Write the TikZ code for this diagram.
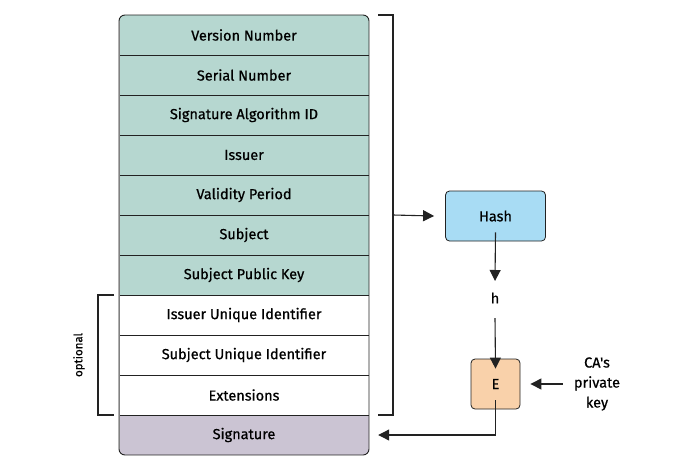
\documentclass[tikz,border=0pt]{standalone}
\usepackage{fontspec}
\setmainfont{Fira Sans}
\newfontfamily\medfont{Fira Sans}[FakeBold=0.7]
\usetikzlibrary{arrows.meta}
\definecolor{tealrow}{HTML}{B6D7D0}
\definecolor{sigrow}{HTML}{CBC4D3}
\definecolor{hashfill}{HTML}{A8DCF4}
\definecolor{efill}{HTML}{F9D1AA}
\definecolor{linec}{HTML}{222222}
\begin{document}
\begin{tikzpicture}[x=1pt,y=-1pt,
  txt/.style={font=\fontsize{14.5}{16}\medfont},
  row/.style={txt,minimum width=250pt,minimum height=40pt,inner sep=0pt},
  arr/.style={-{Triangle[length=11pt,width=11pt]},line width=1.1pt,draw=linec},
  brk/.style={line width=1.1pt,draw=linec},
  procbox/.style={txt,draw=linec,line width=0.8pt,rounded corners=4pt,inner sep=0pt}
]
\useasboundingbox (0,0) rectangle (700,471);
\begin{scope}
\clip[rounded corners=6pt] (119,15) rectangle (369,455);
\fill[tealrow] (119,15) rectangle (369,295);
\fill[white] (119,295) rectangle (369,415);
\fill[sigrow] (119,415) rectangle (369,455);
\end{scope}
\node[row] (r1) at (244,35) {Version Number};
\node[row] (r2) at (244,75) {Serial Number};
\node[row] (r3) at (244,115) {Signature Algorithm ID};
\node[row] (r4) at (244,155) {Issuer};
\node[row] (r5) at (244,195) {Validity Period};
\node[row] (r6) at (244,235) {Subject};
\node[row] (r7) at (244,275) {Subject Public Key};
\node[row] (r8) at (244,315) {Issuer Unique Identifier};
\node[row] (r9) at (244,355) {Subject Unique Identifier};
\node[row] (r10) at (244,395) {Extensions};
\node[row] (r11) at (244,435) {Signature};
\foreach \y in {55,95,135,175,215,255,295,335,375,415}
  \draw[linec,line width=0.8pt] (119,\y) -- (369,\y);
\draw[linec,line width=0.9pt,rounded corners=6pt] (119,15) rectangle (369,455);
\draw[gray,line width=1.2pt] (119.5,21) -- (119.5,449);
% right bracket
\draw[brk] (378,15) -- (393,15) -- (393,415) -- (378,415);
\coordinate (bmid) at (393,215);
% optional bracket
\draw[brk] (114,295) -- (98,295) -- (98,415) -- (114,415);
\node[rotate=90,font=\fontsize{11.5}{13}\medfont] (opt) at (79,355) {optional};
% hash and E
\node[procbox,fill=hashfill,minimum width=100pt,minimum height=50pt] (hash) at (495.5,216) {Hash};
\node[txt,inner sep=0pt] (h) at (495,298) {h};
\node[procbox,fill=efill,minimum width=49pt,minimum height=50pt] (E) at (495.5,384) {E};
\node[align=center,font=\fontsize{14.5}{20}\medfont,inner sep=0pt] (key) at (597,384) {CA{\char"0027}s\\private\\key};
\draw[arr] (bmid) -- ([xshift=-11pt]hash.west);
\draw[arr] ([yshift=9pt]hash.south) -- (495,281);
\draw[arr] (495,318) -- ([yshift=-10pt]E.north);
\draw[arr] ([xshift=-11pt]key.west) -- ([xshift=10pt]E.east);
\draw[arr] ([yshift=9pt]E.south) |- ([xshift=9pt]r11.east);
\end{tikzpicture}
\end{document}
